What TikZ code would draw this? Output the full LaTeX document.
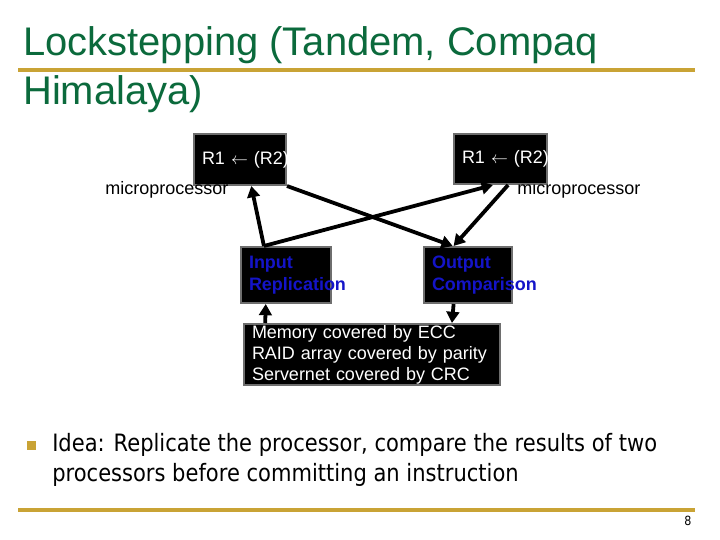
\documentclass[tikz,border=0pt]{standalone}
\usepackage{fontspec}
\setmainfont{Liberation Sans}
\newfontfamily\bodyfont[FakeStretch=0.88]{DejaVu Sans}
\usetikzlibrary{calc,arrows.meta}
\definecolor{slideGreen}{HTML}{0B6A3C}
\definecolor{slideGold}{HTML}{C9A335}
\definecolor{slideBlue}{HTML}{1414C8}
\definecolor{slideGray}{HTML}{6E6E6E}

\begin{document}
\begin{tikzpicture}[x=0.25mm, y=-0.25mm,
    every node/.style={inner sep=0pt},
    box/.style={draw=slideGray, line width=0.5mm, fill=black, anchor=north west,
                inner xsep=2mm, inner ysep=0pt, align=left,
                font=\fontsize{12.8}{15.3}\selectfont},
    lbl/.style={anchor=west, font=\fontsize{12.8}{15.3}\selectfont},
    ar/.style={-{Triangle[length=8pt,width=9pt]}, line width=2.7pt}]
  \useasboundingbox[fill=white] (0,0) rectangle (720,540);

  % title
  \node[anchor=base west, text=slideGreen, font=\fontsize{28.4}{33}\selectfont] (ttlA) at (23,55) {Lockstepping (Tandem, Compaq};
  \node[anchor=base west, text=slideGreen, font=\fontsize{28.4}{33}\selectfont] (ttlB) at (23,104) {Himalaya)};
  \draw[slideGold, line width=2.2pt] (18,70) -- (695,70);

  % the two processors
  \node[box, text=white, text width=19mm, minimum height=12.75mm] (cpuA) at (193,133) {\mbox{\raisebox{-2pt}{R1 $\leftarrow$ (R2)}}};
  \node[box, text=white, text width=19.25mm, minimum height=12.5mm] (cpuB) at (453,133) {\mbox{\raisebox{-1pt}{R1 $\leftarrow$ (R2)}}};
  \node[lbl] (mpA) at (105,190) {microprocessor};
  \node[lbl] (mpB) at (517,190) {microprocessor};

  \node[box, text=slideBlue, font=\fontsize{12.8}{15.3}\selectfont\bfseries, text width=18.5mm, minimum height=14mm] (inRep) at (240,246) {\mbox{Input}\\\mbox{Replication}};
  \node[box, text=slideBlue, font=\fontsize{12.8}{15.3}\selectfont\bfseries, text width=18mm, minimum height=14mm] (outCmp) at (423,246) {\mbox{Output}\\\mbox{Comparison}};
  \node[box, text=white, text width=60mm, minimum height=15.25mm, font=\fontsize{12.8}{15}\selectfont] (mem) at (243,323) {Memory covered by ECC\\RAID array covered by parity\\Servernet covered by CRC};

  \coordinate (fork) at ($(inRep.north west)!0.26!(inRep.north east)$);
  \draw[ar] (fork) -- ($(cpuA.south west)!0.62!(cpuA.south east)$);
  \draw[ar] (fork) -- ($(cpuB.south west)!0.42!(cpuB.south east)$);
  \draw[ar] (cpuA.south east) -- ($(outCmp.north west)!0.33!(outCmp.north east)$);
  \draw[ar] ($(cpuB.south west)!0.58!(cpuB.south east)$) -- ($(outCmp.north west)!0.34!(outCmp.north east)$);
  \draw[ar] ($(mem.north west)!0.086!(mem.north east)$) -- ($(inRep.south west)!0.28!(inRep.south east)$);
  \draw[ar] ($(outCmp.south west)!0.34!(outCmp.south east)$) -- ($(mem.north west)!0.81!(mem.north east)$);

  % bullet text
  \node[fill=slideGold, minimum size=2.25mm] (bul) at (31,445) {};
  \node[anchor=base west, font=\bodyfont\fontsize{17}{21}\selectfont] (idea1) at (52,451) {Idea: Replicate the processor, compare the results of two};
  \node[anchor=base west, font=\bodyfont\fontsize{17}{21}\selectfont] (idea2) at (52,481) {processors before committing an instruction};

  \draw[slideGold, line width=2.2pt] (18,510) -- (695,510);
  \node[font=\bodyfont\fontsize{9}{11}\selectfont] (pg) at (688,521) {8};
\end{tikzpicture}
\end{document}
